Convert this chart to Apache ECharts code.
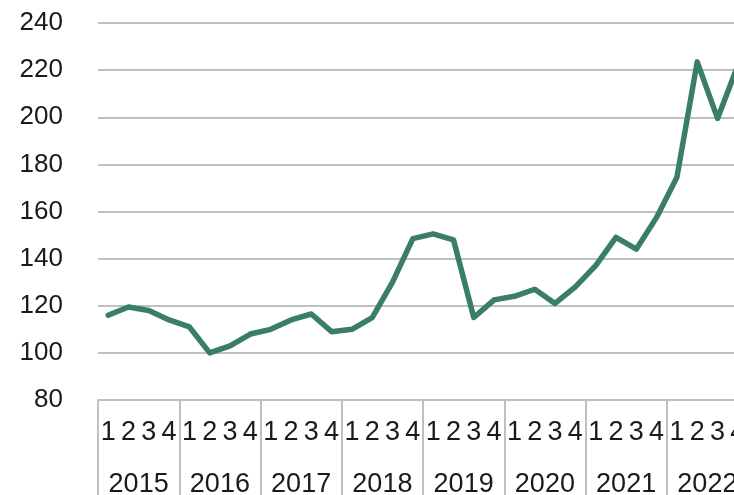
<!DOCTYPE html>
<html>
<head>
<meta charset="utf-8">
<script src="https://cdn.jsdelivr.net/npm/echarts@6/dist/echarts.min.js"></script>
<style>
  html, body { margin: 0; padding: 0; background: #fff; }
  #chart { width: 734px; height: 495px; }
</style>
</head>
<body>
<div id="chart"></div>
<script>
const years = ['2015', '2016', '2017', '2018', '2019', '2020', '2021', '2022']
const quarterLabels = ['1', '2', '3', '4']
const values = [
  116, 119.5, 118, 114,
  111, 100, 103, 108,
  110, 114, 116.5, 109,
  110, 115, 130, 148.5,
  150.5, 148, 115, 122.5,
  124, 127, 121, 128,
  137, 149, 144, 157.5,
  174.5, 223.5, 199.5, 222
]
const yTicks = { min: 80, max: 240, interval: 20 }

const quarters = years.flatMap((y) => quarterLabels.map((q) => q))
const FONT = '"Liberation Sans", Arial, sans-serif'
const GREY = '#bfc0c6'

const chart = echarts.init(document.getElementById('chart'))
chart.setOption({
  animation: false,
  backgroundColor: '#fff',
  // the original is cropped on the right, so the plot runs past the canvas
  grid: { left: 98, top: 23, width: 650, bottom: 95, outerBoundsMode: 'none', containLabel: false },
  xAxis: [
    {
      type: 'category',
      data: quarters,
      position: 'bottom',
      axisLine: { lineStyle: { color: GREY, width: 2 } },
      axisTick: { show: false },
      axisLabel: { interval: 0, margin: 19, color: '#1a1a1a', fontSize: 27, fontFamily: FONT },
    },
    {
      type: 'category',
      data: years,
      position: 'bottom',
      axisLine: { show: false },
      axisTick: { show: true, length: 100, lineStyle: { color: GREY, width: 2 } },
      axisLabel: { interval: 0, margin: 71, color: '#1a1a1a', fontSize: 27, fontFamily: FONT },
    },
  ],
  yAxis: {
    type: 'value',
    min: yTicks.min,
    max: yTicks.max,
    interval: yTicks.interval,
    axisLine: { show: false },
    axisTick: { show: false },
    axisLabel: { margin: 35, color: '#1a1a1a', fontSize: 26, fontFamily: FONT },
    splitLine: { lineStyle: { color: GREY, width: 2 } },
  },
  series: [
    {
      type: 'line',
      data: values,
      xAxisIndex: 0,
      showSymbol: false,
      lineStyle: { color: '#3a7d69', width: 5.5, join: 'round', cap: 'round' },
    },
  ],
})
</script>
</body>
</html>
